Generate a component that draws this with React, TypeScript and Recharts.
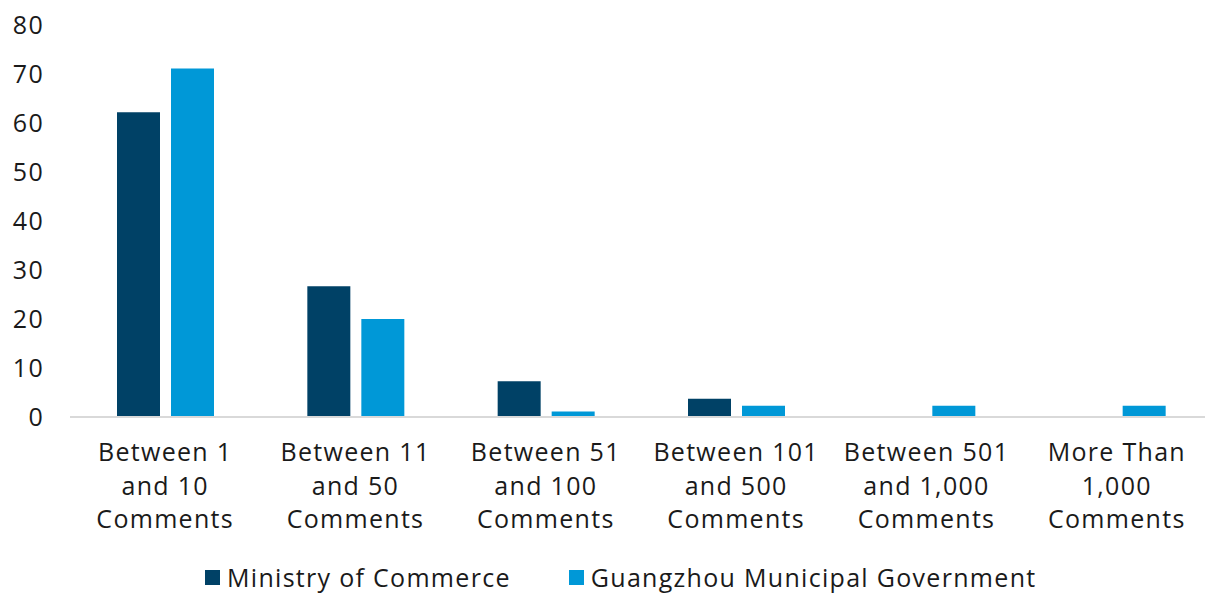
import React from 'react';
import { BarChart, Bar, XAxis, YAxis, Legend } from 'recharts';

const categories = [
  'Between 1\nand 10\nComments',
  'Between 11\nand 50\nComments',
  'Between 51\nand 100\nComments',
  'Between 101\nand 500\nComments',
  'Between 501\nand 1,000\nComments',
  'More Than\n1,000\nComments',
];
const ministryValues = [62.2, 26.7, 7.3, 3.7, 0, 0];
const guangzhouValues = [71.1, 20.0, 1.1, 2.3, 2.3, 2.3];
const yTicks = [0, 10, 20, 30, 40, 50, 60, 70, 80];
const seriesNames = ['Ministry of Commerce', 'Guangzhou Municipal Government'];
const seriesColors = ['#004166', '#0098d7'];

const data = categories.map((c, i) => ({
  category: c,
  ministry: ministryValues[i],
  guangzhou: guangzhouValues[i],
}));

const FONT = '"Open Sans", "Noto Sans", sans-serif';
const TEXT = '#1a1a1a';
const SIZE = 25;
const SPACING = 1.3;

const CategoryTick = (props: any) => {
  const { x, y, payload } = props;
  const lines = String(payload.value).split('\n');
  return (
    <text
      x={x}
      y={y}
      textAnchor="middle"
      fontFamily={FONT}
      fontSize={SIZE}
      letterSpacing={SPACING}
      fill={TEXT}
    >
      {lines.map((l, i) => (
        <tspan key={i} x={x} dy={i === 0 ? 44 : 33.5}>
          {l}
        </tspan>
      ))}
    </text>
  );
};

const LegendContent = () => (
  <div
    style={{
      display: 'flex',
      alignItems: 'center',
      height: 32,
      paddingLeft: 205,
      fontFamily: FONT,
      fontSize: SIZE,
      letterSpacing: SPACING,
      color: TEXT,
      whiteSpace: 'nowrap',
    }}
  >
    {seriesNames.map((n, i) => (
      <div key={n} style={{ display: 'flex', alignItems: 'center', marginRight: 58 }}>
        <span style={{ width: 15, height: 15, background: seriesColors[i], marginRight: 7, display: 'inline-block' }} />
        <span>{n}</span>
      </div>
    ))}
  </div>
);

export default function App() {
  return (
    <div style={{ position: 'absolute', left: 0, top: 0, width: 1205, height: 593, background: '#fff', overflow: 'hidden' }}>
      <BarChart
        width={1205}
        height={593}
        data={data}
        margin={{ top: 25, right: -7, bottom: 0, left: 0 }}
        barSize={43}
        barGap={11}
      >
        <XAxis
          dataKey="category"
          interval={0}
          height={144}
          tickLine={false}
          tickSize={0}
          tickMargin={0}
          axisLine={{ stroke: '#d9d9d9', strokeWidth: 2 }}
          tick={<CategoryTick />}
        />
        <YAxis
          width={70}
          domain={[0, 80]}
          ticks={yTicks}
          axisLine={false}
          tickLine={false}
          tickSize={0}
          tickMargin={26}
          tick={{ fontFamily: FONT, fontSize: SIZE, fill: TEXT, letterSpacing: SPACING }}
        />
        <Legend
          verticalAlign="bottom"
          align="left"
          height={32}
          wrapperStyle={{ left: 0, width: 1205 }}
          content={<LegendContent />}
        />
        <Bar dataKey="ministry" name={seriesNames[0]} fill={seriesColors[0]} isAnimationActive={false} />
        <Bar dataKey="guangzhou" name={seriesNames[1]} fill={seriesColors[1]} isAnimationActive={false} />
      </BarChart>
    </div>
  );
}
